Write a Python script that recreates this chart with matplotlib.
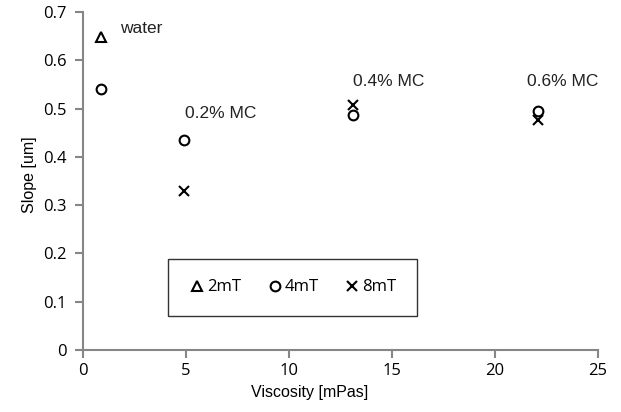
import matplotlib
matplotlib.use('Agg')
import matplotlib.pyplot as plt

# data
visc_2mT = [0.89]
slope_2mT = [0.648]
visc_4mT = [0.89, 4.9, 13.1, 22.1]
slope_4mT = [0.541, 0.434, 0.486, 0.495]
visc_8mT = [4.9, 13.1, 22.1]
slope_8mT = [0.329, 0.508, 0.477]

labels = ["water", "0.2% MC", "0.4% MC", "0.6% MC"]
label_x = [1.8, 4.95, 13.1, 21.55]
label_y = [0.65, 0.475, 0.54, 0.54]

fig = plt.figure(figsize=(6.21, 4.12), dpi=100)
ax = fig.add_axes([0.1337, 0.1505, 0.8293, 0.8205])

ms = 7
ax.plot(visc_2mT, slope_2mT, linestyle='None', marker='^', markersize=ms,
        markerfacecolor='none', markeredgecolor='black', markeredgewidth=1.5, label='2mT')
ax.plot(visc_4mT, slope_4mT, linestyle='None', marker='o', markersize=ms,
        markerfacecolor='none', markeredgecolor='black', markeredgewidth=1.5, label='4mT')
ax.plot(visc_8mT, slope_8mT, linestyle='None', marker='x', markersize=ms,
        color='black', markeredgewidth=1.5, label='8mT')

for t, x, y in zip(labels, label_x, label_y):
    ax.text(x, y, t, fontsize=12.5, family='Liberation Sans', color='#222222',
            ha='left', va='bottom')

ax.set_xlim(0, 25)
ax.set_ylim(0, 0.7)
ax.set_xticks([0, 5, 10, 15, 20, 25])
ax.set_yticks([0, 0.1, 0.2, 0.3, 0.4, 0.5, 0.6, 0.7])
ax.set_xticklabels(['0', '5', '10', '15', '20', '25'])
ax.set_yticklabels(['0', '0.1', '0.2', '0.3', '0.4', '0.5', '0.6', '0.7'])

for s in ['top', 'right']:
    ax.spines[s].set_visible(False)
for s in ['left', 'bottom']:
    ax.spines[s].set_color('#868686')
    ax.spines[s].set_linewidth(1.5)
ax.tick_params(axis='both', direction='out', color='#868686', width=1.5, length=6,
               labelsize=12)
ax.tick_params(axis='y', pad=6)
for lab in ax.get_xticklabels() + ax.get_yticklabels():
    lab.set_family('Open Sans')

ax.set_xlabel('Viscosity [mPas]', fontsize=11.5, family='Liberation Sans')
ax.set_ylabel('Slope [um]', fontsize=11.5, family='Liberation Sans')
ax.xaxis.set_label_coords(0.44, -0.105)
ax.yaxis.set_label_coords(-0.09, 0.52)

leg = ax.legend(ncol=3, loc='center', bbox_to_anchor=(0.407, 0.185),
                frameon=True, fancybox=False, edgecolor='black',
                prop={'family': 'Open Sans', 'size': 12},
                handletextpad=0.1, columnspacing=1.5, handlelength=1.0,
                borderpad=1.25, borderaxespad=0)
leg.get_frame().set_linewidth(1.0)

fig.savefig('out.png', dpi=100)
